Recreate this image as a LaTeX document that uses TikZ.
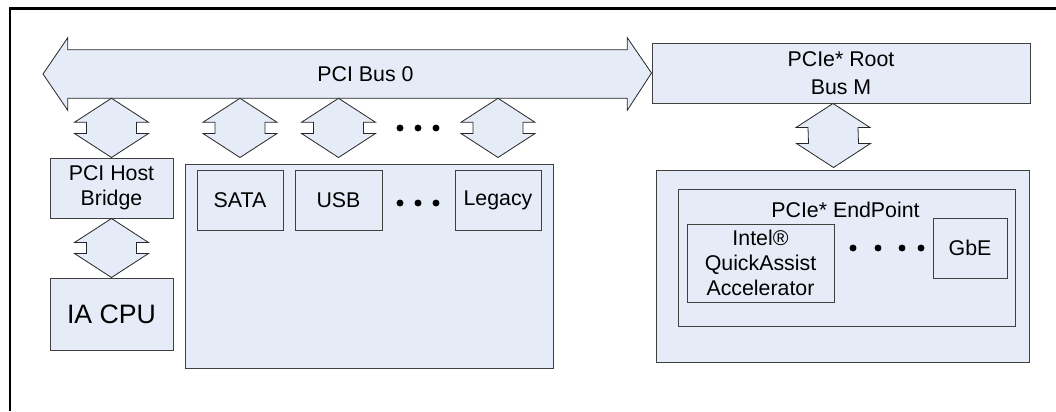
\documentclass[tikz,border=0pt]{standalone}
\usepackage{fontspec}
\setmainfont{Liberation Sans}
\usepackage{tikz}
\usetikzlibrary{calc}
\usetikzlibrary{positioning}

\definecolor{blockfill}{RGB}{230,236,247}
\definecolor{blockline}{RGB}{64,64,64}
\tikzset{
	block/.style={draw=blockline, fill=blockfill, line width=0.75pt, inner sep=0pt, align=center, font=\fontsize{16}{19}\selectfont},
	sized/.style 2 args={minimum width=#1*0.75pt, minimum height=#2*0.75pt},
	link/.style={draw=black!85, fill=blockfill, line width=0.6pt, line join=miter},
	lbl/.style={inner sep=0pt, font=\fontsize{16}{19}\selectfont},
}
% double arrow from #1 (top) down to #2 (bottom)
\newcommand{\vlink}[2]{%
	\draw[link] (#1) -- ++(37,24) -- ++(-12,0) -- ($(#2)+(25,-24)$) -- ++(12,0) -- (#2)
		-- ++(-37,-24) -- ++(12,0) -- ($(#1)+(-25,24)$) -- ++(-12,0) -- cycle;}

\begin{document}
\begin{tikzpicture}[x=0.75pt,y=-0.75pt]
		\useasboundingbox (0,0) rectangle (1056,411);
		\draw[line width=1.6pt] (1056,8.5) -- (10,8.5) -- (10,411);
		
		% root complex and bus
		\node[block, sized={378}{60}, font=\fontsize{16}{21}\selectfont] (root) at (841,73) {PCIe* Root\\Bus M};
		\node[sized={559}{48}, inner sep=0pt] (bus) at (347.5,74) {};
		\coordinate (busend) at (43,74);
		\draw[link] (bus.north west) -- (bus.north east) -- ++(0,-12) -- (root.west)
			-- ($(bus.south east)+(0,12)$) -- (bus.south east) -- (bus.south west)
			-- ++(0,12) -- (busend) -- ($(bus.north west)+(0,-12)$) -- cycle;
		\node[lbl] (buslabel) at ($(bus.center)+(18,0)$) {PCI Bus 0};
		
		% host side
		\node[block, sized={123}{60}] (bridge) at (111.5,188) {PCI Host\\Bridge};
		\node[block, sized={123}{72}, font=\fontsize{20}{24}\selectfont] (cpu) at (111.5,314) {IA CPU};
		\vlink{bridge.north |- bus.south}{bridge.north}
		\vlink{bridge.south}{cpu.north}
		
		% devices on bus 0
		\node[block, sized={368}{204}] (periph) at (369,266) {};
		\node[block, sized={86}{60}] (sata) at (240,200) {SATA};
		\node[block, sized={87}{60}] (usb) at (338.5,200) {USB};
		\node[block, sized={86}{60}] (legacy) at (498,200) {Legacy};
		\foreach \dev in {sata,usb,legacy}
			\vlink{\dev.north |- bus.south}{$(\dev.north |- periph.north)+(0,-6)$};
		\foreach \x in {400,418,436} {
			\fill (\x,128) circle (2.6pt);
			\fill (\x,203) circle (2.6pt);
		}
		
		% endpoint
		\node[block, sized={373}{192}] (pcie) at (842.5,266) {};
		\node[block, sized={337}{137}] (ep) at (846.5,257.5) {};
		\node[lbl] (eplabel) at ($(ep.north)+(-1,21)$) {PCIe* EndPoint};
		\node[block, sized={147}{78}] (qat) at (760.5,263) {Intel\textregistered\\QuickAssist\\Accelerator};
		\node[block, sized={74}{60}] (gbe) at (970,248) {GbE};
		\foreach \x in {853,878,902,921}
			\fill (\x,248) circle (2.6pt);
		\vlink{$(root.south)+(-8,0)$}{$(pcie.north)+(-9,-2)$}
\end{tikzpicture}
\end{document}
